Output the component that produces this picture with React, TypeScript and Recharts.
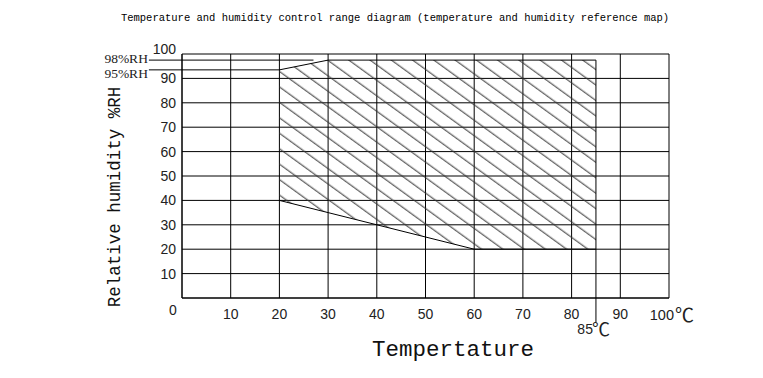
import React from 'react';
import { ComposedChart, Area, XAxis, YAxis, CartesianGrid, ReferenceLine } from 'recharts';

// hatched operating region: upper and lower humidity edge per temperature
const tempPoints = [20, 30, 60, 85];
const upperRH = [93.5, 97.5, 97.5, 97.5];
const lowerRH = [40, 35, 20, 20];

const xTicks = [0, 10, 20, 30, 40, 50, 60, 70, 80, 90, 100];
const yTicks = [0, 10, 20, 30, 40, 50, 60, 70, 80, 90, 100];

// marker lines for the humidity limits (value, where the line stops)
const rhLabels = ['98%RH', '95%RH'];
const rhValues = [97.5, 93.5];
const rhLineEnds = [27, 20];
const rhLineStart = -6.8;

const maxTemp = 85;
const maxTempBottom = -10;

const regionData = tempPoints.map((t, i) => ({ t, rh: [lowerRH[i], upperRH[i]] }));

const tickFont = '"Liberation Sans", Arial, sans-serif';
const monoFont = '"Liberation Mono", "DejaVu Sans Mono", monospace';
const degFont = '"Noto Sans CJK SC", "DejaVu Sans", sans-serif';

const XTick = (props: any) => {
  const { x, y, payload } = props;
  const v = payload.value;
  if (v === 0) return <g />;
  if (v === 100) {
    return (
      <g>
        <text x={x + 5} y={y + 22} textAnchor="end" fontSize={14.5} fontFamily={tickFont} fill="#222">
          {v}
        </text>
        <text x={x + 6} y={y + 24} fontSize={19} fontFamily={degFont} fill="#222">
          ℃
        </text>
      </g>
    );
  }
  return (
    <text x={x} y={y + 21} textAnchor="middle" fontSize={14} fontFamily={tickFont} fill="#222">
      {v}
    </text>
  );
};

const YTick = (props: any) => {
  const { x, y, payload } = props;
  const v = payload.value;
  if (v === 0) {
    return (
      <text x={x - 9} y={y + 17} textAnchor="middle" fontSize={14} fontFamily={tickFont} fill="#222">
        0
      </text>
    );
  }
  return (
    <text x={x - 6} y={v === 100 ? y : y + 5} textAnchor="end" fontSize={14} fontFamily={tickFont} fill="#222">
      {v}
    </text>
  );
};

const rhLabel = (text: string, dy: number) => (props: any) => {
  const vb = props.viewBox;
  return (
    <text x={vb.x - 1} y={vb.y + dy} textAnchor="end" fontSize={13.5} fontFamily='"Liberation Serif", serif' fill="#222">
      {text}
    </text>
  );
};

const maxTempLabel = (props: any) => {
  const vb = props.viewBox;
  const bottom = vb.y + vb.height;
  return (
    <g>
      <text x={vb.x - 3} y={bottom + 12} textAnchor="end" fontSize={14} fontFamily={tickFont} fill="#222">
        {maxTemp}
      </text>
      <text x={vb.x - 4} y={bottom + 14} fontSize={18} fontFamily={degFont} fill="#222">
        ℃
      </text>
    </g>
  );
};

export default function App() {
  return (
    <div style={{ position: 'relative', width: 763, height: 378, background: '#fff' }}>
      <style>{`body{margin:0}`}</style>
      <div
        style={{
          position: 'absolute',
          left: 0,
          width: 790,
          top: 11,
          textAlign: 'center',
          fontFamily: monoFont,
          fontSize: 10.5,
          lineHeight: '14px',
          color: '#000',
          whiteSpace: 'nowrap',
        }}
      >
        Temperature and humidity control range diagram (temperature and humidity reference map)
      </div>
      <div
        style={{
          position: 'absolute',
          left: 115,
          top: 197,
          transform: 'translate(-50%, -50%) rotate(-90deg)',
          fontFamily: monoFont,
          fontSize: 17.5,
          color: '#111',
          whiteSpace: 'nowrap',
        }}
      >
        Relative humidity %RH
      </div>
      <div
        style={{
          position: 'absolute',
          left: 453,
          top: 337,
          transform: 'translateX(-50%)',
          fontFamily: monoFont,
          fontSize: 22.5,
          lineHeight: '26px',
          color: '#111',
          whiteSpace: 'nowrap',
        }}
      >
        Tempertature
      </div>
      <ComposedChart
        width={763}
        height={378}
        data={regionData}
        margin={{ top: 54, right: 94, bottom: 50, left: 122 }}
      >
        <defs>
          <pattern id="hatch" patternUnits="userSpaceOnUse" width="8" height="12.5" patternTransform="rotate(36)">
            <line x1="0" y1="6" x2="8" y2="6" stroke="#333" strokeWidth="1" />
          </pattern>
        </defs>
        <CartesianGrid stroke="#000" strokeWidth={1} />
        <XAxis
          dataKey="t"
          type="number"
          domain={[0, 100]}
          ticks={xTicks}
          interval={0}
          height={30}
          tickSize={0}
          tickMargin={0}
          tickLine={false}
          axisLine={{ stroke: '#000' }}
          tick={<XTick />}
        />
        <YAxis
          type="number"
          domain={[0, 100]}
          ticks={yTicks}
          interval={0}
          width={60}
          tickSize={0}
          tickMargin={0}
          tickLine={false}
          axisLine={{ stroke: '#000' }}
          tick={<YTick />}
        />
        <Area
          type="linear"
          dataKey="rh"
          stroke="#000"
          strokeWidth={1}
          fill="url(#hatch)"
          fillOpacity={1}
          dot={false}
          activeDot={false}
          isAnimationActive={false}
        />
        {rhLabels.map((lab, i) => (
          <ReferenceLine
            key={lab}
            segment={[
              { x: rhLineStart, y: rhValues[i] },
              { x: rhLineEnds[i], y: rhValues[i] },
            ]}
            stroke="#000"
            strokeWidth={1}
            ifOverflow="visible"
            label={rhLabel(lab, i === 0 ? 3 : 8)}
          />
        ))}
        <ReferenceLine
          segment={[
            { x: maxTemp, y: upperRH[upperRH.length - 1] },
            { x: maxTemp, y: maxTempBottom },
          ]}
          stroke="#000"
          strokeWidth={1}
          ifOverflow="visible"
          label={maxTempLabel}
        />
      </ComposedChart>
    </div>
  );
}
